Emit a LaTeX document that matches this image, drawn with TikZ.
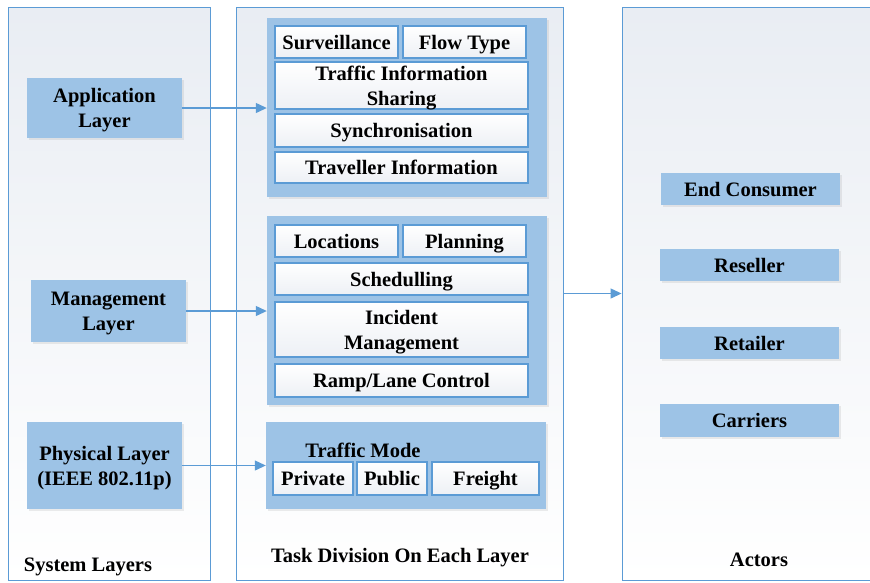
\documentclass[tikz,border=0pt]{standalone}
\usepackage{fontspec}
\setmainfont{Liberation Serif}[BoldFont={Liberation Serif Bold}]
\usetikzlibrary{arrows.meta,shadows}

\definecolor{edgeblue}{HTML}{5B9BD5}
\definecolor{boxblue}{HTML}{9DC3E6}
\definecolor{panelgray}{HTML}{E9EDF3}
\definecolor{cellgray}{HTML}{EDF0F5}

\begin{document}
\begin{tikzpicture}[x=1pt, y=-1pt,
    font=\rmfamily\bfseries\fontsize{20.5}{25}\selectfont,
    panel/.style={draw=edgeblue, line width=0.9pt, top color=panelgray, bottom color=white, inner sep=0pt},
    group/.style={fill=boxblue, inner sep=0pt, drop shadow={opacity=0.15, shadow xshift=1.5pt, shadow yshift=-1.5pt}},
    layerbox/.style={fill=boxblue, align=center, inner sep=0pt, text depth=0pt, minimum width=155pt, drop shadow={opacity=0.15, shadow xshift=1.5pt, shadow yshift=-1.5pt}},
    cell/.style={draw=edgeblue, line width=1.1pt, top color=white, bottom color=cellgray, align=center, inner sep=0pt, text height=15pt, text depth=1pt, minimum height=32pt},
    twoline/.style={text height=, text depth=0pt},
    actor/.style={fill=boxblue, inner sep=0pt, text height=15pt, text depth=1pt, minimum width=179pt, minimum height=32pt, drop shadow={opacity=0.15, shadow xshift=1.5pt, shadow yshift=-1.5pt}},
    link/.style={draw=edgeblue, line width=1.2pt, -{Triangle[length=11pt, width=10pt]}}]

     \useasboundingbox (0, 0) rectangle (870, 582);
     \clip (0, 0) rectangle (870, 582);

     % the three columns
     \node (sysPanel) at (109, 293.5) [panel, minimum width=202pt, minimum height=573pt] {};
     \node (taskPanel) at (399.5, 293.5) [panel, minimum width=327pt, minimum height=573pt] {};
     \node (actPanel) at (761, 293.5) [panel, minimum width=278pt, minimum height=573pt] {};

     % system layers
     \node (app) at (104.5, 108) [layerbox, minimum height=60pt] {Application\\Layer};
     \node (mgmt) at (108.5, 311) [layerbox, minimum height=62pt] {Management\\Layer};
     \node (phy) at (104.5, 465.5) [layerbox, minimum height=87pt] {Physical Layer\\(IEEE 802.11p)};
     \node (sysTitle) at (88, 567) {System Layers};

     % tasks of the application layer
     \node (grpApp) at (407, 107.5) [group, minimum width=280pt, minimum height=179pt] {};
     \node (surv) at (336.5, 42) [cell, minimum width=123pt] {Surveillance};
     \node (flow) at (464.5, 42) [cell, minimum width=123pt] {Flow Type};
     \node (share) at (401.5, 85.5) [cell, twoline, minimum width=253pt, minimum height=47pt] {Traffic Information\\Sharing};
     \node (sync) at (401.5, 130.5) [cell, minimum width=253pt, minimum height=33pt] {Synchronisation};
     \node (trav) at (401.5, 167.5) [cell, minimum width=253pt, minimum height=31pt] {Traveller Information};

     % tasks of the management layer
     \node (grpMgmt) at (407, 310.5) [group, minimum width=280pt, minimum height=189pt] {};
     \node (loc) at (336.5, 241) [cell, minimum width=123pt] {Locations};
     \node (plan) at (464.5, 241) [cell, minimum width=123pt] {Planning};
     \node (sched) at (401.5, 279) [cell, minimum width=253pt] {Schedulling};
     \node (incid) at (401.5, 329.5) [cell, twoline, minimum width=253pt, minimum height=55pt] {Incident\\Management};
     \node (ramp) at (401.5, 380.5) [cell, minimum width=253pt, minimum height=33pt] {Ramp/Lane Control};

     % tasks of the physical layer
     \node (grpPhy) at (406, 465.5) [group, minimum width=280pt, minimum height=87pt] {};
     \node (mode) at (363, 450) {Traffic Mode};
     \node (priv) at (313, 478.5) [cell, minimum width=80pt, minimum height=33pt] {Private};
     \node (pub) at (392, 478.5) [cell, minimum width=70pt, minimum height=33pt] {Public};
     \node (frt) at (485.5, 478.5) [cell, minimum width=107pt, minimum height=33pt] {Freight};
     \node (taskTitle) at (400, 558) {Task Division On Each Layer};

     % actors
     \node (cons) at (750.5, 189) [actor] {End Consumer};
     \node (resel) at (749.5, 265) [actor] {Reseller};
     \node (retail) at (749.5, 343) [actor] {Retailer};
     \node (carr) at (749.5, 420.5) [actor, minimum height=33pt] {Carriers};
     \node (actTitle) at (759, 560) {Actors};

     \draw [link] (app.east) -- (app.east -| grpApp.west);
     \draw [link] (mgmt.east) -- (mgmt.east -| grpMgmt.west);
     \draw [link] (phy.east) -- (phy.east -| grpPhy.west);
     \draw [link] (taskPanel.east) -- (actPanel.west);

\end{tikzpicture}
\end{document}
